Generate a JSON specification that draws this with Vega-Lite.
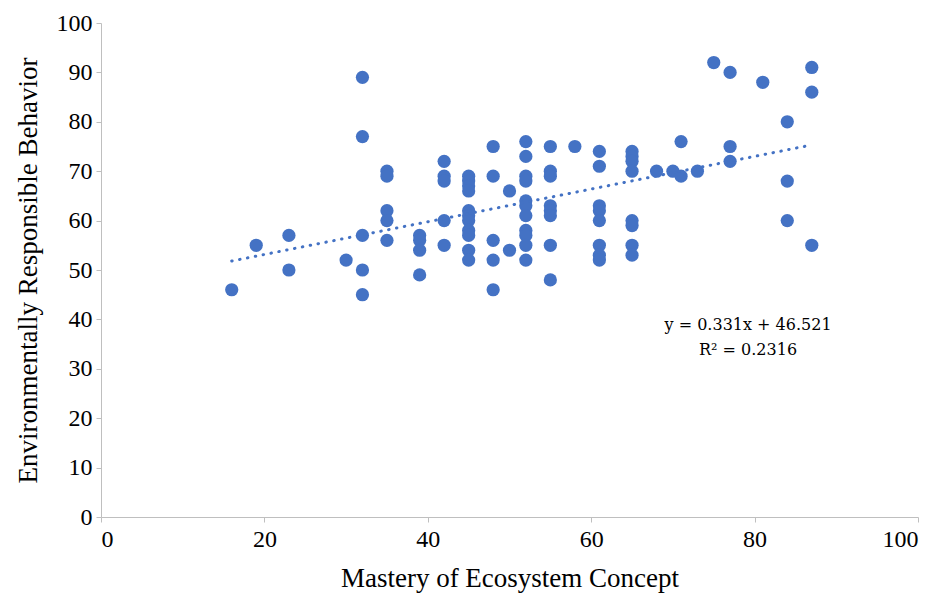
{
  "$schema": "https://vega.github.io/schema/vega-lite/v6.json",
  "width": 817,
  "height": 494,
  "autosize": {"type": "none"},
  "padding": {"left": 101, "top": 23, "right": 19, "bottom": 77},
  "background": "white",
  "config": {
    "view": {"stroke": null},
    "font": "Liberation Serif",
    "axis": {
      "grid": false,
      "domainColor": "#bfbfbf",
      "domainWidth": 1,
      "tickColor": "#bfbfbf",
      "tickSize": 5,
      "labelFont": "Liberation Serif",
      "labelFontSize": 24,
      "labelColor": "#000000",
      "titleFont": "Liberation Serif",
      "titleFontSize": 27,
      "titleFontWeight": "normal",
      "titleColor": "#000000"
    }
  },
  "datasets": {
    "pts": [
      {"m": 16, "e": 46}, {"m": 19, "e": 55}, {"m": 23, "e": 57}, {"m": 23, "e": 50}, {"m": 30, "e": 52},
      {"m": 32, "e": 89}, {"m": 32, "e": 77}, {"m": 32, "e": 57}, {"m": 32, "e": 50}, {"m": 32, "e": 45},
      {"m": 35, "e": 70}, {"m": 35, "e": 69}, {"m": 35, "e": 62}, {"m": 35, "e": 60}, {"m": 35, "e": 56},
      {"m": 39, "e": 57}, {"m": 39, "e": 56}, {"m": 39, "e": 54}, {"m": 39, "e": 49},
      {"m": 42, "e": 72}, {"m": 42, "e": 69}, {"m": 42, "e": 68}, {"m": 42, "e": 60}, {"m": 42, "e": 55},
      {"m": 45, "e": 69}, {"m": 45, "e": 68}, {"m": 45, "e": 67}, {"m": 45, "e": 66}, {"m": 45, "e": 62},
      {"m": 45, "e": 61}, {"m": 45, "e": 60}, {"m": 45, "e": 58}, {"m": 45, "e": 57}, {"m": 45, "e": 54}, {"m": 45, "e": 52},
      {"m": 48, "e": 75}, {"m": 48, "e": 69}, {"m": 48, "e": 56}, {"m": 48, "e": 52}, {"m": 48, "e": 46},
      {"m": 50, "e": 66}, {"m": 50, "e": 54},
      {"m": 52, "e": 76}, {"m": 52, "e": 73}, {"m": 52, "e": 69}, {"m": 52, "e": 68}, {"m": 52, "e": 64},
      {"m": 52, "e": 63}, {"m": 52, "e": 61}, {"m": 52, "e": 58}, {"m": 52, "e": 57}, {"m": 52, "e": 55}, {"m": 52, "e": 52},
      {"m": 55, "e": 75}, {"m": 55, "e": 70}, {"m": 55, "e": 69}, {"m": 55, "e": 63}, {"m": 55, "e": 62},
      {"m": 55, "e": 61}, {"m": 55, "e": 55}, {"m": 55, "e": 48},
      {"m": 58, "e": 75},
      {"m": 61, "e": 74}, {"m": 61, "e": 71}, {"m": 61, "e": 63}, {"m": 61, "e": 62}, {"m": 61, "e": 60},
      {"m": 61, "e": 55}, {"m": 61, "e": 53}, {"m": 61, "e": 52},
      {"m": 65, "e": 74}, {"m": 65, "e": 73}, {"m": 65, "e": 72}, {"m": 65, "e": 70}, {"m": 65, "e": 60},
      {"m": 65, "e": 59}, {"m": 65, "e": 55}, {"m": 65, "e": 53},
      {"m": 68, "e": 70}, {"m": 70, "e": 70}, {"m": 71, "e": 69}, {"m": 71, "e": 76}, {"m": 73, "e": 70},
      {"m": 75, "e": 92}, {"m": 77, "e": 90}, {"m": 77, "e": 75}, {"m": 77, "e": 72}, {"m": 81, "e": 88},
      {"m": 84, "e": 80}, {"m": 84, "e": 68}, {"m": 84, "e": 60},
      {"m": 87, "e": 91}, {"m": 87, "e": 86}, {"m": 87, "e": 55}
    ],
    "trend": [
      {"m": 16, "e": 51.817},
      {"m": 87, "e": 75.318}
    ],
    "notes": [
      {"m": 79.2, "e": 38.9, "t": "y = 0.331x + 46.521"},
      {"m": 79.2, "e": 33.8, "t": "R² = 0.2316"}
    ]
  },
  "layer": [
    {
      "data": {"name": "pts"},
      "mark": {"type": "point", "filled": true, "shape": "circle", "size": 175, "color": "#4472C4", "opacity": 1},
      "encoding": {
        "x": {"field": "m", "type": "quantitative", "scale": {"domain": [0, 100], "nice": false},
              "axis": {"title": "Mastery of Ecosystem Concept", "values": [0, 20, 40, 60, 80, 100], "labelPadding": 5, "titlePadding": 14}},
        "y": {"field": "e", "type": "quantitative", "scale": {"domain": [0, 100], "nice": false},
              "axis": {"title": "Environmentally Responsible Behavior", "values": [0, 10, 20, 30, 40, 50, 60, 70, 80, 90, 100], "labelPadding": 4, "titlePadding": 14}}
      }
    },
    {
      "data": {"name": "trend"},
      "mark": {"type": "line", "color": "#4472C4", "strokeWidth": 3, "strokeCap": "round", "strokeDash": [0.5, 7.5]},
      "encoding": {
        "x": {"field": "m", "type": "quantitative"},
        "y": {"field": "e", "type": "quantitative"}
      }
    },
    {
      "data": {"name": "notes"},
      "mark": {"type": "text", "font": "DejaVu Serif", "fontSize": 16, "color": "#000000", "align": "center", "baseline": "middle"},
      "encoding": {
        "x": {"field": "m", "type": "quantitative"},
        "y": {"field": "e", "type": "quantitative"},
        "text": {"field": "t"}
      }
    }
  ]
}
